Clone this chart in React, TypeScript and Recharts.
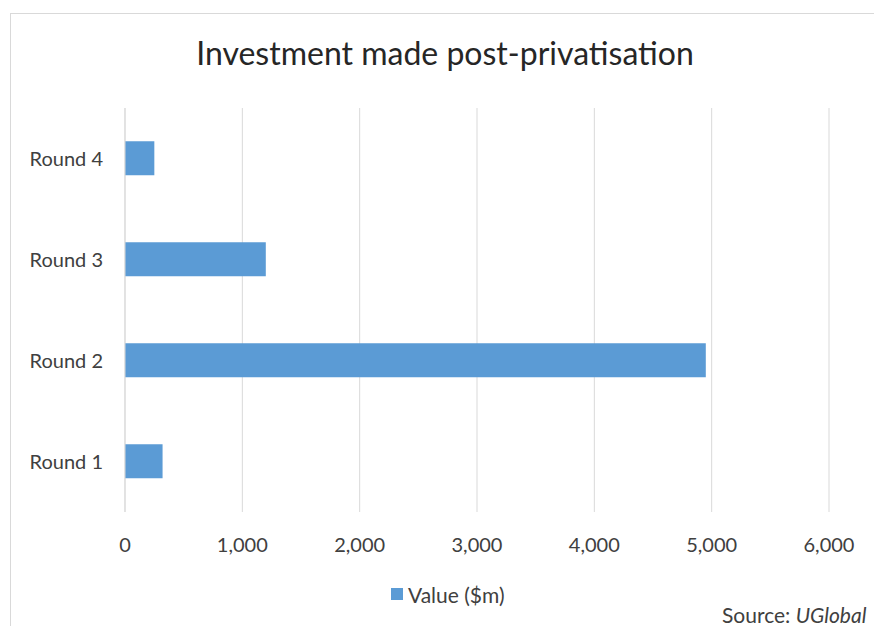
import { BarChart, Bar, XAxis, YAxis, CartesianGrid } from "recharts";

const rounds = ["Round 1", "Round 2", "Round 3", "Round 4"];
const values = [320, 4950, 1200, 250];
const xTicks = [0, 1000, 2000, 3000, 4000, 5000, 6000];

const data = rounds.map((name, i) => ({ name, value: values[i] }));

const FONT = "Lato, 'Open Sans', sans-serif";
const TEXT = "#404040";

export default function App() {
  return (
    <div
      style={{
        position: "absolute",
        left: 0,
        top: 0,
        width: 874,
        height: 626,
        overflow: "hidden",
        background: "#fff",
        fontFamily: FONT,
      }}
    >
      <div
        style={{
          position: "absolute",
          left: 10,
          top: 13,
          width: 900,
          height: 700,
          border: "1px solid #d9d9d9",
        }}
      />
      <div
        style={{
          position: "absolute",
          left: 0,
          width: 890,
          top: 29,
          textAlign: "center",
          fontSize: 32,
          color: "#262626",
          lineHeight: "48px",
        }}
      >
        Investment made post-privatisation
      </div>
      <div style={{ position: "absolute", left: 0, top: 0 }}>
        <BarChart
          layout="vertical"
          width={874}
          height={626}
          data={data}
          margin={{ top: 108, right: 45, bottom: 84, left: 10 }}
          barCategoryGap="33%"
        >
          <CartesianGrid horizontal={false} stroke="#d9d9d9" />
          <XAxis
            type="number"
            domain={[0, 6000]}
            ticks={xTicks}
            tickFormatter={(v: number) => v.toLocaleString("en-US")}
            axisLine={false}
            tickLine={false}
            tickMargin={20}
            height={30}
            tick={{ fontSize: 20, fill: TEXT, fontFamily: FONT }}
          />
          <YAxis
            type="category"
            dataKey="name"
            reversed
            width={115}
            axisLine={{ stroke: "#d9d9d9" }}
            tickLine={false}
            tickMargin={16}
            tick={{ fontSize: 20, fill: TEXT, fontFamily: FONT }}
          />
          <Bar dataKey="value" name="Value ($m)" fill="#5b9bd5" isAnimationActive={false} />
        </BarChart>
      </div>
      <div
        style={{
          position: "absolute",
          left: 391,
          top: 581,
          display: "flex",
          alignItems: "center",
          height: 26,
        }}
      >
        <span style={{ width: 12, height: 12, background: "#5b9bd5", marginRight: 5 }} />
        <span style={{ fontSize: 21, color: TEXT }}>Value ($m)</span>
      </div>
      <div
        style={{
          position: "absolute",
          left: 722,
          top: 603,
          fontSize: 21,
          lineHeight: "24px",
          color: TEXT,
          whiteSpace: "nowrap",
        }}
      >
        Source: <i>UGlobal</i>
      </div>
    </div>
  );
}
